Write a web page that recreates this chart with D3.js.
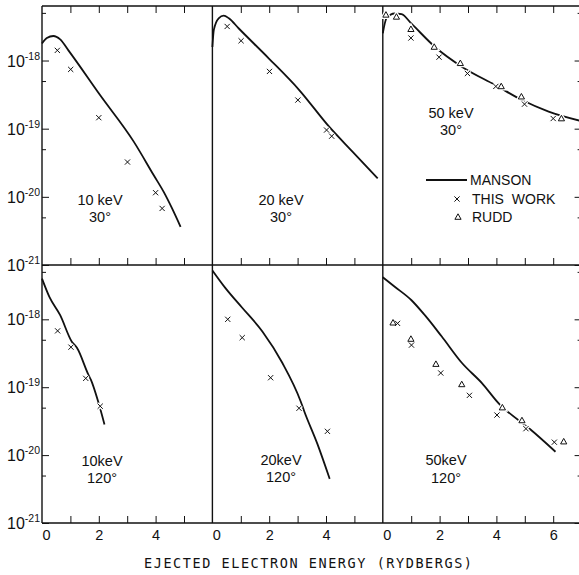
<!DOCTYPE html>
<html>
<head>
<meta charset="utf-8">
<script src="https://cdn.jsdelivr.net/npm/d3@7"></script>
<style>
body { margin:0; background:#fff; }
text { font-family:"Liberation Sans", Arial, sans-serif; fill:#111; }
</style>
</head>
<body>
<div id="my_viz"></div>
<script>
// ---- data (energy in Rydbergs, cross section) ----
const manson_10_30 = [[0,1.78e-18],[0.17,2.14e-18],[0.40,2.29e-18],[0.64,2.04e-18],[0.93,1.41e-18],[2.05,3.09e-19],[3.23,6.46e-20],[3.93,2.09e-20],[4.29,1.17e-20],[4.58,6.76e-21],[4.88,3.63e-21]]
const work_10_30 = [[0.54,1.41e-18],[1.01,7.41e-19],[2.00,1.45e-19],[3.01,3.24e-20],[4.00,1.15e-20],[4.23,6.76e-21]]

const manson_20_30 = [[0,1.58e-18],[0.05,2.82e-18],[0.22,4.17e-18],[0.40,4.57e-18],[0.58,4.17e-18],[0.93,2.95e-18],[1.99,1.07e-18],[3.05,3.72e-19],[4.11,1.07e-19],[4.94,4.57e-20],[5.82,1.86e-20]]
const work_20_30 = [[0.52,3.16e-18],[1.01,1.95e-18],[2.01,6.92e-19],[3.01,2.63e-19],[4.02,9.55e-20],[4.20,7.76e-20]]

const manson_50_30 = [[0,2.51e-18],[0.13,4.17e-18],[0.42,4.90e-18],[0.66,4.79e-18],[1.01,3.47e-18],[1.84,1.58e-18],[2.78,8.13e-19],[3.96,4.37e-19],[4.90,2.63e-19],[5.84,1.78e-19],[7.0,1.29e-19]]
const work_50_30 = [[0.99,2.14e-18],[1.98,1.12e-18],[2.98,6.46e-19],[3.98,4.17e-19],[4.99,2.29e-19],[6.00,1.41e-19]]
const rudd_50_30 = [[0.11,4.68e-18],[0.48,4.37e-18],[0.99,2.88e-18],[1.81,1.58e-18],[2.73,9.12e-19],[4.17,4.17e-19],[4.88,2.95e-19],[6.29,1.41e-19]]

const manson_10_120 = [[0,3.98e-18],[0.26,2.14e-18],[0.64,1.15e-18],[1.05,4.68e-19],[1.23,3.80e-19],[1.64,1.51e-19],[1.72,1.29e-19],[1.99,5.89e-20],[2.20,2.82e-20]]
const work_10_120 = [[0.55,6.76e-19],[1.02,3.89e-19],[1.54,1.35e-19],[2.05,5.25e-20]]

const manson_20_120 = [[0,5.25e-18],[0.46,2.88e-18],[1.05,1.48e-18],[1.76,6.61e-19],[2.46,2.29e-19],[3.11,6.17e-20],[3.23,4.47e-20],[3.70,1.45e-20],[4.13,4.47e-21]]
const work_20_120 = [[0.54,1.0e-18],[1.05,5.37e-19],[2.05,1.38e-19],[3.05,4.90e-20],[4.05,2.24e-20]]

const manson_50_120 = [[0,4.17e-18],[0.42,3.02e-18],[1.01,1.91e-18],[1.48,1.15e-18],[2.07,5.62e-19],[2.78,2.29e-19],[3.49,1.15e-19],[4.13,5.50e-20],[4.37,4.47e-20],[5.19,2.40e-20],[6.08,1.12e-20]]
const work_50_120 = [[0.52,8.71e-19],[1.01,4.17e-19],[2.04,1.62e-19],[3.05,7.59e-20],[4.02,3.89e-20],[5.04,2.45e-20],[6.04,1.55e-20]]
const rudd_50_120 = [[0.36,8.91e-19],[0.99,5.13e-19],[1.87,2.19e-19],[2.78,1.10e-19],[4.21,5.01e-20],[4.90,3.24e-20],[6.37,1.58e-20]]

const panel_titles = [["10 keV","30°"],["20 keV","30°"],["50 keV","30°"],["10keV","120°"],["20keV","120°"],["50keV","120°"]]
const x_max = [6, 6, 7]
const x_labels = [[0,2,4],[0,2,4],[0,2,4,6]]
const y_exponents = [-18, -19, -20, -21]
const legend_keys = ["MANSON", "THIS WORK", "RUDD"]

// ---- layout ----
const width = 579, height = 575
const left = 42, unit = 28.4
const row_top = [6, 265], row_bottom = [265, 523]
const col_x = [left, left + 6*unit, left + 12*unit]

var svg = d3.select("#my_viz").append("svg")
	.attr("width", width).attr("height", height)
svg.append("rect").attr("width", width).attr("height", height).attr("fill", "#fff")

const panels = [
	{row:0, col:0, line:manson_10_30, work:work_10_30, rudd:null, label:[100,205,222]},
	{row:0, col:1, line:manson_20_30, work:work_20_30, rudd:null, label:[281,205,222]},
	{row:0, col:2, line:manson_50_30, work:work_50_30, rudd:rudd_50_30, label:[451,118,135]},
	{row:1, col:0, line:manson_10_120, work:work_10_120, rudd:null, label:[102,466,483]},
	{row:1, col:1, line:manson_20_120, work:work_20_120, rudd:null, label:[281,465,482]},
	{row:1, col:2, line:manson_50_120, work:work_50_120, rudd:rudd_50_120, label:[446,465,483]}
]

const crossPath = "M-2.6,-2.6L2.6,2.6M-2.6,2.6L2.6,-2.6"
const triPath = "M0,-3.2L3.1,2.3L-3.1,2.3Z"

function yScale(row) {
	return d3.scaleLog().domain([1e-21, Math.pow(10, -17.2)]).range([row_bottom[row], row_top[row]])
}
function xScale(col) {
	return d3.scaleLinear().domain([0, x_max[col]]).range([col_x[col], col_x[col] + x_max[col]*unit])
}

const frame = svg.append("g").attr("stroke", "#111").attr("stroke-width", 1.4)

panels.forEach((p, i) => {
	var x = xScale(p.col), y = yScale(p.row)
	var g = svg.append("g")

	// integer ticks, inward from top (top row) and up from the bottom of each panel
	var ticks = d3.range(1, x_max[p.col])
	if (p.row == 0) {
		g.append("g").attr("transform", "translate(0," + row_top[0] + ")")
			.call(d3.axisBottom(x).tickValues(ticks).tickSize(7).tickFormat(""))
			.call(a => a.select(".domain").remove())
	}
	g.append("g").attr("transform", "translate(0," + row_bottom[p.row] + ")")
		.call(d3.axisTop(x).tickValues(ticks).tickSize(7).tickFormat(""))
		.call(a => a.select(".domain").remove())

	// manson curve
	var line = d3.line().x(d => x(d[0])).y(d => y(d[1])).curve(d3.curveMonotoneX)
	g.append("path").attr("d", line(p.line))
		.attr("fill", "none").attr("stroke", "#111").attr("stroke-width", 1.8)

	// markers with white halo
	var marks = []
	p.work.forEach(d => marks.push({d:d, path:crossPath}))
	if (p.rudd) p.rudd.forEach(d => marks.push({d:d, path:triPath}))
	g.selectAll("path.halo").data(marks).enter().append("path").attr("class", "halo")
		.attr("d", m => m.path)
		.attr("transform", m => "translate(" + x(m.d[0]) + "," + y(m.d[1]) + ")")
		.attr("fill", "none").attr("stroke", "#fff").attr("stroke-width", 3.5)
	g.selectAll("path.mark").data(marks).enter().append("path").attr("class", "mark")
		.attr("d", m => m.path)
		.attr("transform", m => "translate(" + x(m.d[0]) + "," + y(m.d[1]) + ")")
		.attr("fill", "none").attr("stroke", "#111").attr("stroke-width", 1)

	// panel title
	g.append("text").attr("x", p.label[0]).attr("y", p.label[1])
		.attr("text-anchor", "middle").style("font-size", "14.5px").text(panel_titles[i][0])
	g.append("text").attr("x", p.label[0]).attr("y", p.label[2])
		.attr("text-anchor", "middle").style("font-size", "14.5px").text(panel_titles[i][1])

	// x tick labels under bottom row
	if (p.row == 1) {
		g.append("g").attr("transform", "translate(0," + row_bottom[1] + ")")
			.call(d3.axisBottom(x).tickValues(x_labels[p.col]).tickSize(0).tickPadding(7).tickFormat(d3.format("d")))
			.call(a => a.select(".domain").remove())
			.call(a => a.selectAll("text").style("font-size", "14.5px")
				.attr("font-family", null).attr("fill", "#111")
				.attr("dx", d => d == 0 ? 4 : 0))
	}
})

// y ticks (left of first column, right of last column)
;[0, 1].forEach(r => {
	var y = yScale(r)
	var major = d3.range(-21, -17).map(e => Math.pow(10, e))
	var minor = d3.range(-21, -17).map(e => 5 * Math.pow(10, e)).filter(v => v < y.domain()[1])
	var xr = col_x[2] + x_max[2]*unit
	svg.append("g").attr("transform", "translate(" + left + ",0)")
		.call(d3.axisRight(y).tickValues(major).tickSize(7).tickFormat(""))
		.call(a => a.select(".domain").remove())
	svg.append("g").attr("transform", "translate(" + left + ",0)")
		.call(d3.axisRight(y).tickValues(minor).tickSize(4).tickFormat(""))
		.call(a => a.select(".domain").remove())
	svg.append("g").attr("transform", "translate(" + xr + ",0)")
		.call(d3.axisLeft(y).tickValues(major).tickSize(7).tickFormat(""))
		.call(a => a.select(".domain").remove())
	svg.append("g").attr("transform", "translate(" + xr + ",0)")
		.call(d3.axisLeft(y).tickValues(minor).tickSize(4).tickFormat(""))
		.call(a => a.select(".domain").remove())

	// labels 10^n
	y_exponents.forEach(e => {
		var t = svg.append("text").attr("x", 7).attr("y", y(Math.pow(10, e)) + 6)
		t.append("tspan").style("font-size", "16px").text("10")
		t.append("tspan").style("font-size", "10.5px").attr("dy", -7).text(e)
	})
})
svg.selectAll(".tick line").attr("stroke", "#111").attr("stroke-width", 1)

// frame lines
col_x.forEach(cx => frame.append("line").attr("x1", cx).attr("x2", cx).attr("y1", row_top[0]).attr("y2", row_bottom[1]))
;[row_top[0], row_bottom[0], row_bottom[1]].forEach(ry => frame.append("line")
	.attr("x1", left).attr("x2", width + 2).attr("y1", ry).attr("y2", ry))

// legend
var legend = svg.append("g").attr("transform", "translate(426,180)")
legend.append("line").attr("x1", 0).attr("x2", 41).attr("y1", 0).attr("y2", 0)
	.attr("stroke", "#111").attr("stroke-width", 1.8)
legend.append("path").attr("d", crossPath).attr("transform", "translate(31,19)")
	.attr("fill", "none").attr("stroke", "#111").attr("stroke-width", 1)
legend.append("path").attr("d", triPath).attr("transform", "translate(32,37)")
	.attr("fill", "none").attr("stroke", "#111").attr("stroke-width", 1)
legend.selectAll("text.lg").data(legend_keys).enter().append("text").attr("class", "lg")
	.attr("x", (d, i) => i == 0 ? 44 : 46)
	.attr("y", (d, i) => 5 + i*18.5)
	.style("font-size", "14px").style("word-spacing", "4px")
	.text(d => d)

// x axis title
svg.append("text").attr("x", 144).attr("y", 568)
	.attr("textLength", 328).attr("lengthAdjust", "spacing")
	.style("font-family", "'DejaVu Sans Mono', monospace").style("font-size", "13.5px")
	.text("EJECTED ELECTRON ENERGY (RYDBERGS)")
</script>
</body>
</html>
